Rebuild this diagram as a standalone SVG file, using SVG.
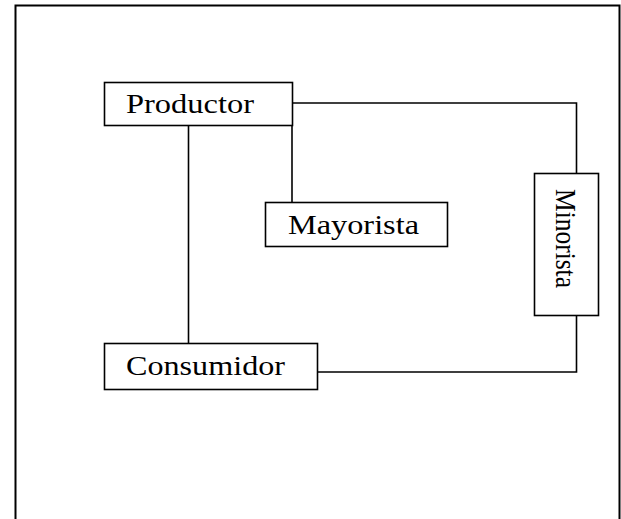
<svg xmlns="http://www.w3.org/2000/svg" width="621" height="519" viewBox="0 0 621 519">
  <style>
    .box { fill: #ffffff; stroke: #000000; stroke-width: 1.6; }
    .wire { fill: none; stroke: #000000; stroke-width: 1.6; }
    .label { font-family: "Liberation Serif", "Times New Roman", serif; font-size: 27px; fill: #000000; }
  </style>
  <rect width="621" height="519" fill="#ffffff"/>
  <!-- open frame around the chart -->
  <path d="M15.5,519 V5.5 H619.5 V519" fill="none" stroke="#000000" stroke-width="2"/>
  <g id="connectors">
    <path class="wire" d="M292,103 H576.5 V173"/>
    <path class="wire" d="M292,125 V202"/>
    <path class="wire" d="M188.5,125 V343"/>
    <path class="wire" d="M317,372 H576.5 V315"/>
  </g>
  <g id="productor">
    <rect class="box" x="104.5" y="82.5" width="188" height="43"/>
    <text class="label" x="126" y="113" textLength="128" lengthAdjust="spacingAndGlyphs">Productor</text>
  </g>
  <g id="mayorista">
    <rect class="box" x="265.5" y="202.5" width="182" height="44"/>
    <text class="label" x="288" y="234" textLength="131" lengthAdjust="spacingAndGlyphs">Mayorista</text>
  </g>
  <g id="minorista">
    <rect class="box" x="534.5" y="173.5" width="64" height="142"/>
    <text class="label" transform="translate(556,189) rotate(90)" x="0" y="0" style="font-size:29px" textLength="99" lengthAdjust="spacingAndGlyphs">Minorista</text>
  </g>
  <g id="consumidor">
    <rect class="box" x="104.5" y="343.5" width="213" height="46"/>
    <text class="label" x="126" y="375" textLength="159" lengthAdjust="spacingAndGlyphs">Consumidor</text>
  </g>
</svg>
